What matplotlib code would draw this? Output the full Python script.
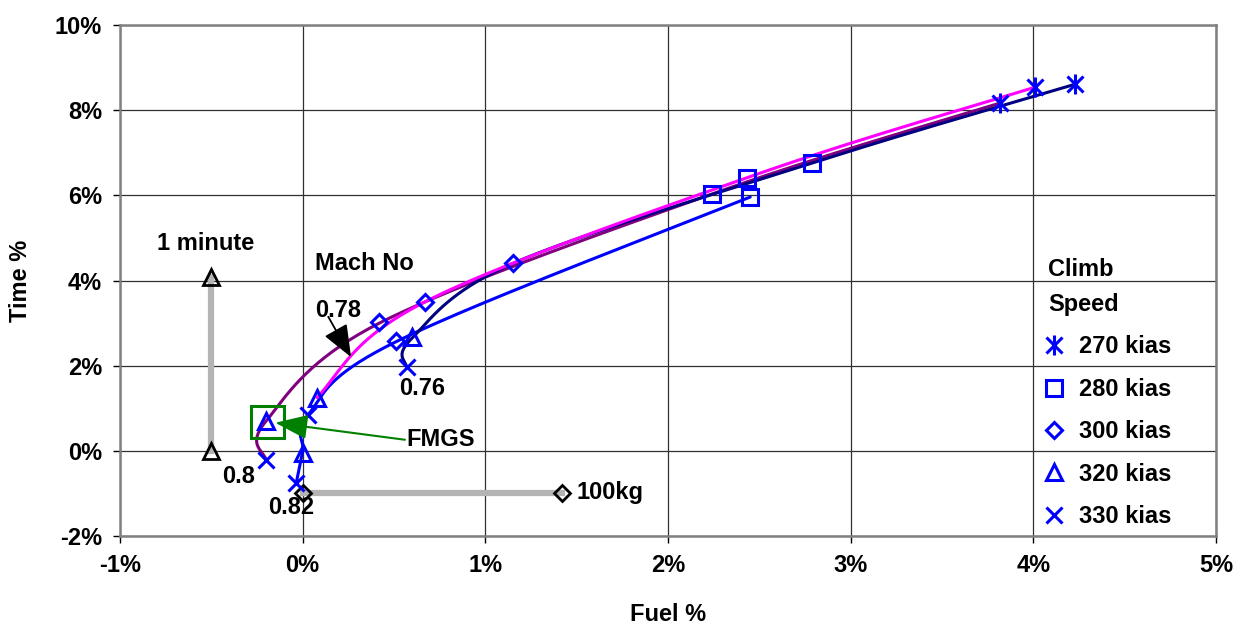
import numpy as np
import matplotlib
matplotlib.use("Agg")
import matplotlib.pyplot as plt
from matplotlib.lines import Line2D
from matplotlib.patches import Rectangle

plt.rcParams['font.family'] = ['Liberation Sans', 'DejaVu Sans']
plt.rcParams['font.weight'] = 'bold'

# smoothed lines, one per Mach number (fuel %, time %)
mach076_fuel = [0.57, 0.60, 1.15, 2.79, 4.23]
mach076_time = [1.97, 2.65, 4.40, 6.76, 8.61]
mach078_fuel = [0.08, 0.67, 2.43, 4.01]
mach078_time = [1.25, 3.50, 6.41, 8.54]
mach080_fuel = [-0.20, -0.20, 0.42, 2.24, 3.82]
mach080_time = [-0.20, 0.70, 3.00, 6.03, 8.17]
mach082_fuel = [-0.035, 0.0, 0.03, 0.51, 2.45]
mach082_time = [-0.75, 0.0, 0.85, 2.56, 5.96]

# markers, one series per climb speed
kias270_fuel = [3.82, 4.01, 4.23]
kias270_time = [8.17, 8.54, 8.61]
kias280_fuel = [2.24, 2.43, 2.79, 2.45]
kias280_time = [6.03, 6.41, 6.76, 5.96]
kias300_fuel = [0.42, 0.67, 0.51, 1.15]
kias300_time = [3.03, 3.50, 2.57, 4.41]
kias320_fuel = [-0.20, 0.08, 0.0, 0.60]
kias320_time = [0.69, 1.24, -0.05, 2.68]
kias330_fuel = [-0.20, 0.03, -0.035, 0.57]
kias330_time = [-0.21, 0.85, -0.75, 1.98]

# scale bars
minute_fuel = [-0.5, -0.5]
minute_time = [0.0, 4.08]
kg100_fuel = [0.0, 1.42]
kg100_time = [-0.99, -0.99]

xticks = [-1, 0, 1, 2, 3, 4, 5]
yticks = [-2, 0, 2, 4, 6, 8, 10]


def smooth(xs, ys, n=40):
    # excel-like smoothed line (cubic hermite through the points)
    p = np.column_stack([xs, ys]).astype(float)
    m = len(p)
    t = np.zeros_like(p)
    for i in range(1, m - 1):
        t[i] = (p[i + 1] - p[i - 1]) / 2
    nat0 = (3 * (p[1] - p[0]) - t[1]) / 2
    nat1 = (3 * (p[-1] - p[-2]) - t[-2]) / 2
    t[0] = 0.5 * nat0 + 0.5 * (p[1] - p[0])
    t[-1] = 0.5 * nat1 + 0.5 * (p[-1] - p[-2])
    s = np.linspace(0, 1, n)[:, None]
    h00 = 2 * s**3 - 3 * s**2 + 1
    h10 = s**3 - 2 * s**2 + s
    h01 = -2 * s**3 + 3 * s**2
    h11 = s**3 - s**2
    out = []
    for i in range(m - 1):
        out.append(h00 * p[i] + h10 * t[i] + h01 * p[i + 1] + h11 * t[i + 1])
    out = np.vstack(out)
    return out[:, 0], out[:, 1]


fig = plt.figure(figsize=(12.46, 6.3), dpi=100)
ax = fig.add_axes([120 / 1246, 1 - 536 / 630, 1096 / 1246, 511 / 630])

fs = 17
blue = '#0000FF'

for fx, ty, col in [(mach080_fuel, mach080_time, '#800080'),
                    (mach082_fuel, mach082_time, '#0000FF'),
                    (mach076_fuel, mach076_time, '#000080'),
                    (mach078_fuel, mach078_time, '#FF00FF')]:
    sx, sy = smooth(fx, ty)
    ax.plot(sx, sy, color=col, lw=2.2, zorder=3, solid_capstyle='round')

mk = dict(linestyle='none', color=blue, mfc='none', mew=2.2, zorder=4)
ax.plot(kias270_fuel, kias270_time, marker='x', ms=12, **mk)
ax.plot(kias270_fuel, kias270_time, marker='|', ms=15, **mk)
ax.plot(kias280_fuel, kias280_time, marker='s', ms=11.5, **mk)
ax.plot(kias300_fuel, kias300_time, marker='D', ms=8.6, **mk)
ax.plot(kias320_fuel, kias320_time, marker='^', ms=12, **mk)
ax.plot(kias330_fuel, kias330_time, marker='x', ms=12, **mk)

# scale bars
ax.plot(minute_fuel, minute_time, color='#b4b4b4', lw=4.5, zorder=2)
ax.plot(minute_fuel, minute_time, linestyle='none', marker='^', ms=12,
        mfc='none', mec='black', mew=2, zorder=3)
ax.plot(kg100_fuel, kg100_time, color='#b4b4b4', lw=4.5, zorder=2)
ax.plot(kg100_fuel, kg100_time, linestyle='none', marker='D', ms=8,
        mfc='none', mec='black', mew=2, zorder=3)

# annotations
ax.text(-0.53, 4.88, '1 minute', fontsize=fs, ha='center', va='center')
ax.text(0.066, 4.41, 'Mach No', fontsize=fs, ha='left', va='center')
ax.text(0.066, 3.29, '0.78', fontsize=fs, ha='left', va='center')
ax.text(0.53, 1.46, '0.76', fontsize=fs, ha='left', va='center')
ax.text(-0.44, -0.61, '0.8', fontsize=fs, ha='left', va='center')
ax.text(-0.19, -1.34, '0.82', fontsize=fs, ha='left', va='center')
ax.text(0.57, 0.26, 'FMGS', fontsize=fs, ha='left', va='center')
ax.text(1.5, -0.99, '100kg', fontsize=fs, ha='left', va='center')

ax.annotate('', xy=(0.265, 2.2), xytext=(0.14, 3.15),
            arrowprops=dict(arrowstyle='-|>,head_length=2.0,head_width=0.8',
                            color='black', lw=1.3, shrinkA=0, shrinkB=0),
            zorder=5)
ax.annotate('', xy=(-0.15, 0.66), xytext=(0.56, 0.26),
            arrowprops=dict(arrowstyle='-|>,head_length=2.0,head_width=0.75',
                            color='#008000', lw=1.5, shrinkA=0, shrinkB=0),
            zorder=5)
ax.add_patch(Rectangle((-0.284, 0.31), 0.18, 0.75, fill=False,
                       edgecolor='#008000', lw=2.2, zorder=5))

# axes
ax.set_xlim(-1, 5)
ax.set_ylim(-2, 10)
ax.set_xticks(xticks)
ax.set_xticklabels([f'{v}%' for v in xticks])
ax.set_yticks(yticks)
ax.set_yticklabels([f'{v}%' for v in yticks])
ax.tick_params(labelsize=fs, length=5, width=1, direction='out', pad=8)
ax.grid(True, color='#303030', lw=0.9)
ax.set_axisbelow(True)
for sp in ax.spines.values():
    sp.set_color('#808080')
    sp.set_linewidth(1.8)
ax.set_xlabel('Fuel %', fontsize=fs, fontweight='bold', labelpad=19)
ax.set_ylabel('Time %', fontsize=fs, fontweight='bold', labelpad=16)

# legend
h270 = (Line2D([], [], marker='x', ms=12, **mk), Line2D([], [], marker='|', ms=15, **mk))
handles = [h270,
           Line2D([], [], marker='s', ms=11.5, **mk),
           Line2D([], [], marker='D', ms=8.6, **mk),
           Line2D([], [], marker='^', ms=12, **mk),
           Line2D([], [], marker='x', ms=12, **mk)]
labels = ['270 kias', '280 kias', '300 kias', '320 kias', '330 kias']
leg = ax.legend(handles, labels, loc='upper left', bbox_to_anchor=(0.847, 0.545),
                frameon=False, fontsize=fs, title='Climb\nSpeed',
                title_fontproperties={'weight': 'bold', 'size': fs},
                alignment='left', handlelength=0.5, handletextpad=0.8,
                labelspacing=0.82, borderpad=0, borderaxespad=0)
leg.get_title().set_linespacing(1.7)

fig.savefig('out.png', dpi=100)
